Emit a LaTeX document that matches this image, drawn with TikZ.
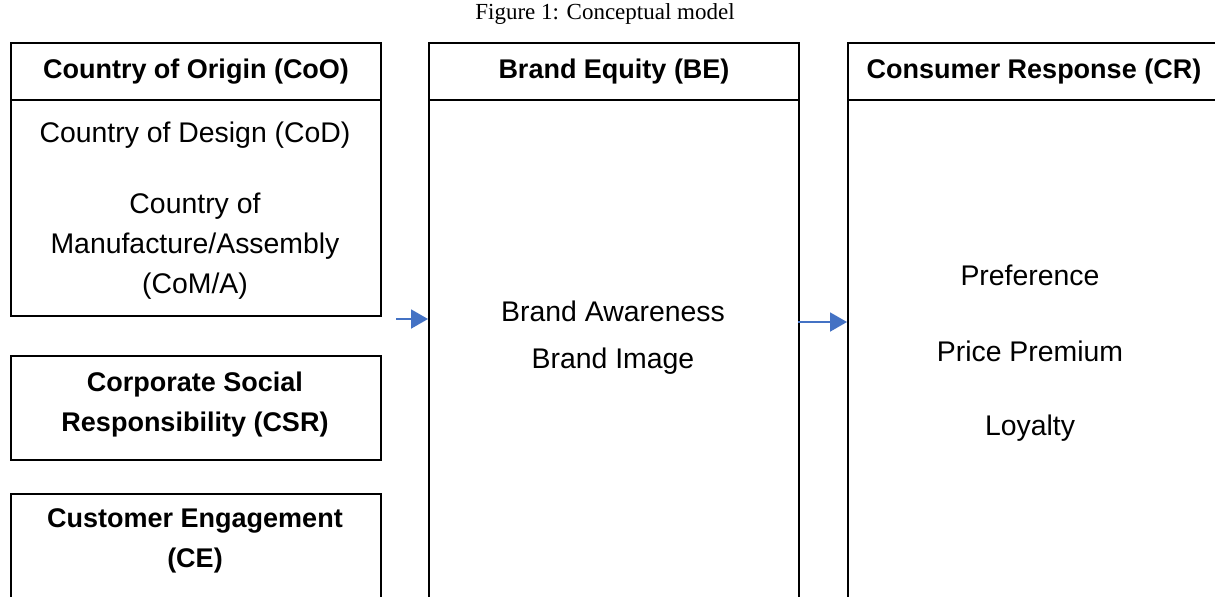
\documentclass[tikz,border=0pt]{standalone}
\usepackage{fontspec}
\setmainfont{Liberation Serif}
\setsansfont{Liberation Sans}
\usetikzlibrary{positioning, arrows.meta}

\definecolor{flowblue}{HTML}{4472C4}

\begin{document}
\begin{tikzpicture}[
    x=0.5pt, y=-0.5pt,
    % boxes and text
    headbox/.style={
        rectangle,
        draw=black,
        line width=1pt,
        minimum width=185pt,
        minimum height=28.5pt,
        inner sep=0pt,
        anchor=north west,
        font=\sffamily\bfseries\fontsize{13.5}{20}\selectfont
    },
    bodybox/.style={
        rectangle,
        draw=black,
        line width=1pt,
        minimum width=185pt,
        inner sep=0pt,
        anchor=north west
    },
    itemtext/.style={
        align=center,
        inner sep=0pt,
        font=\sffamily\fontsize{14.2}{20}\selectfont
    },
    boldtext/.style={
        align=center,
        inner sep=0pt,
        font=\sffamily\bfseries\fontsize{13.5}{20}\selectfont
    },
    flow/.style={
        -{Triangle[length=8.5pt, width=9.5pt]},
        line width=1pt,
        flowblue
    }
]
\useasboundingbox (0,0) rectangle (1215,596);

% === Caption ===
\node[font=\fontsize{11.5}{14}\selectfont] (caption) at (605,14) {Figure 1: Conceptual model};

% === Left column: drivers ===
\node[headbox] (coo head) at (10,42) {Country of Origin (CoO)};
\node[bodybox, minimum height=108pt] (coo body) at (10,99) {};
\node[itemtext] (cod) at (195,135) {Country of Design (CoD)};
\node[itemtext] (coma) at (195,246) {Country of\\Manufacture/Assembly\\(CoM/A)};

\node[bodybox, minimum height=52pt] (csr) at (10,355) {};
\node[boldtext] (csr text) at (195,405) {Corporate Social\\Responsibility (CSR)};

\node[bodybox, minimum height=70pt] (ce) at (10,493) {};
\node[boldtext] (ce text) at (195,541) {Customer Engagement\\(CE)};

% === Middle column: brand equity ===
\node[headbox] (be head) at (428,42) {Brand Equity (BE)};
\node[bodybox, minimum height=270pt] (be body) at (428,99) {};
\node[itemtext] (awareness) at (613,311) {Brand Awareness};
\node[itemtext] (image) at (613,361) {Brand Image};

% === Right column: consumer response ===
\node[headbox, minimum width=186pt] (cr head) at (847,42) {Consumer Response (CR)};
\node[bodybox, minimum width=186pt, minimum height=270pt] (cr body) at (847,99) {};
\node[itemtext] (preference) at (1030,275) {Preference};
\node[itemtext] (premium) at (1030,351) {Price Premium};
\node[itemtext] (loyalty) at (1030,428) {Loyalty};

% === Arrows ===
\coordinate (feed) at (396,319);
\coordinate (out) at (798,322);
\draw[flow] (feed) -- (feed -| be body.west);
\draw[flow] (out) -- (out -| cr body.west);

\end{tikzpicture}
\end{document}
